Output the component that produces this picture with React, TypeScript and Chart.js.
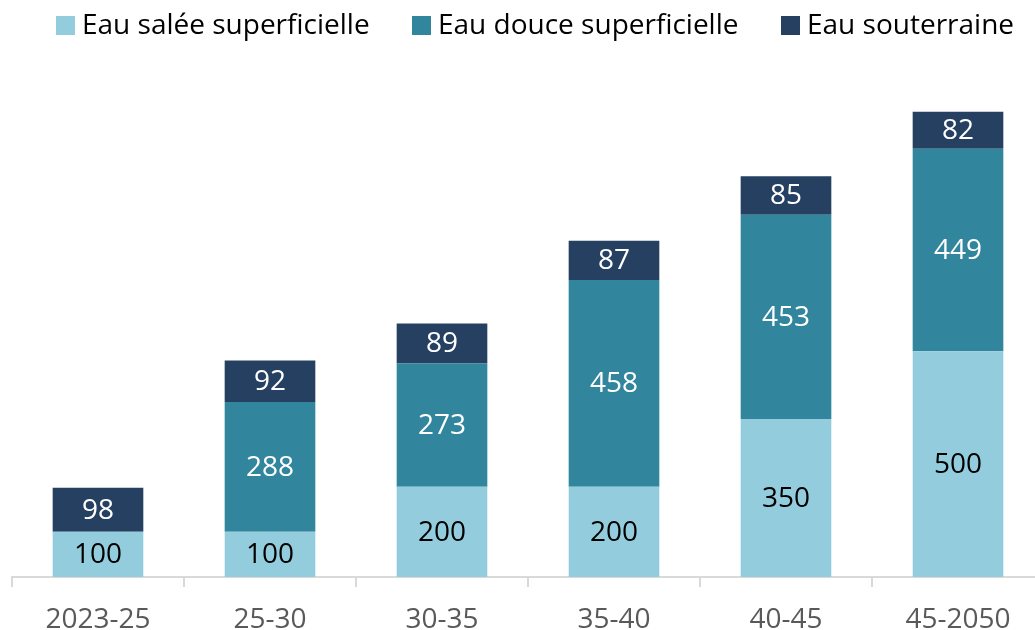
import React, { useEffect, useRef } from "react";
import { Chart, registerables } from "chart.js";

Chart.register(...registerables);

const categories = ["2023-25", "25-30", "30-35", "35-40", "40-45", "45-2050"];
const seriesNames = ["Eau salée superficielle", "Eau douce superficielle", "Eau souterraine"];
const saltSurface = [100, 100, 200, 200, 350, 500];
const freshSurface = [0, 288, 273, 458, 453, 449];
const groundwater = [98, 92, 89, 87, 85, 82];
const seriesColors = ["#93CDDD", "#31859C", "#254061"];
const labelColors = ["#000000", "#FFFFFF", "#FFFFFF"];

const FONT = "'Open Sans', 'DejaVu Sans', sans-serif";

const dataLabelPlugin = {
  id: "dataLabels",
  afterDatasetsDraw(chart: any) {
    const ctx = chart.ctx;
    ctx.save();
    ctx.font = `28px ${FONT}`;
    ctx.textAlign = "center";
    ctx.textBaseline = "middle";
    chart.data.datasets.forEach((ds: any, di: number) => {
      const meta = chart.getDatasetMeta(di);
      meta.data.forEach((el: any, i: number) => {
        const v = ds.data[i];
        if (!v) return;
        const { x, y, base } = el.getProps(["x", "y", "base"], true);
        ctx.fillStyle = labelColors[di];
        ctx.fillText(String(v), x, (y + base) / 2 + 1);
      });
    });
    ctx.restore();
  },
};

export default function App() {
  const ref = useRef<HTMLCanvasElement>(null);
  useEffect(() => {
    if (!ref.current) return;
    const chart = new Chart(ref.current, {
      type: "bar",
      data: {
        labels: categories,
        datasets: [saltSurface, freshSurface, groundwater].map((d, i) => ({
          label: seriesNames[i],
          data: d,
          backgroundColor: seriesColors[i],
          borderWidth: 0,
          categoryPercentage: 1,
          barPercentage: 0.527,
        })),
      },
      options: {
        responsive: false,
        animation: false,
        layout: { padding: { left: 12, right: 16, top: 40, bottom: 0 } },
        plugins: {
          legend: { display: false },
          tooltip: { enabled: false },
        },
        scales: {
          x: {
            stacked: true,
            grid: {
              display: true,
              drawOnChartArea: false,
              drawTicks: true,
              tickLength: 10,
              color: "#D9D9D9",
              lineWidth: 2,
            },
            border: { display: true, color: "#D9D9D9", width: 2 },
            ticks: {
              color: "#595959",
              font: { family: FONT, size: 28, lineHeight: 1 },
              padding: 19,
              maxRotation: 0,
            },
          },
          y: {
            stacked: true,
            display: false,
            min: 0,
            max: 1190,
          },
        },
      },
      plugins: [dataLabelPlugin],
    });
    return () => chart.destroy();
  }, []);

  const legendLeft = [56, 412, 781];
  return (
    <div
      style={{
        position: "fixed",
        left: 0,
        top: 0,
        width: 1035,
        height: 630,
        overflow: "hidden",
        background: "#FFFFFF",
      }}
    >
      <canvas ref={ref} width={1060} height={653} style={{ display: "block" }} />
      {seriesNames.map((n, i) => (
        <div
          key={n}
          style={{
            position: "absolute",
            left: legendLeft[i],
            top: 9,
            display: "flex",
            alignItems: "center",
            fontFamily: FONT,
            fontSize: 28,
            lineHeight: "28px",
            color: "#000000",
            whiteSpace: "nowrap",
          }}
        >
          <span
            style={{
              display: "inline-block",
              width: 19,
              height: 19,
              background: seriesColors[i],
              marginRight: 7,
              marginTop: 4,
            }}
          />
          <span>{n}</span>
        </div>
      ))}
    </div>
  );
}
